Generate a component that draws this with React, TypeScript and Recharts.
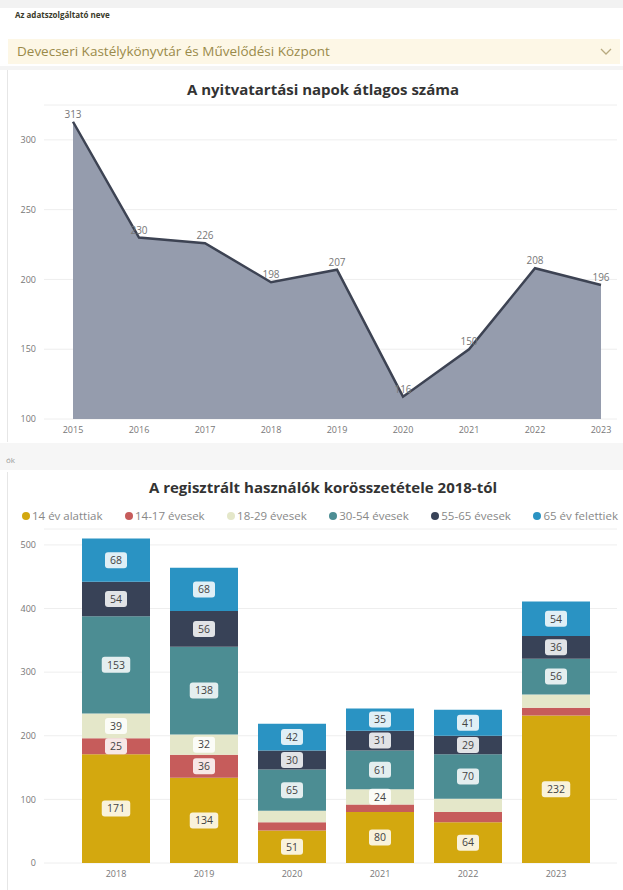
import React from 'react';
import {
  Area,
  AreaChart,
  Bar,
  BarChart,
  CartesianGrid,
  LabelList,
  XAxis,
  YAxis,
} from 'recharts';

// opening days per year
const openYears = ['2015', '2016', '2017', '2018', '2019', '2020', '2021', '2022', '2023'];
const openDays = [313, 230, 226, 198, 207, 116, 150, 208, 196];
const openTicks = [100, 150, 200, 250, 300];

// registered users by age group
const userYears = ['2018', '2019', '2020', '2021', '2022', '2023'];
const under14 = [171, 134, 51, 80, 64, 232];
const age14to17 = [25, 36, 13, 12, 16, 12];
const age18to29 = [39, 32, 18, 24, 21, 21];
const age30to54 = [153, 138, 65, 61, 70, 56];
const age55to65 = [54, 56, 30, 31, 29, 36];
const over65 = [68, 68, 42, 35, 41, 54];
const userTicks = [0, 100, 200, 300, 400, 500];

const groups = [
  { key: 'u14', name: '14 év alattiak', values: under14, color: '#d3a80f' },
  { key: 'a1417', name: '14-17 évesek', values: age14to17, color: '#c65c5b' },
  { key: 'a1829', name: '18-29 évesek', values: age18to29, color: '#e4e7c9' },
  { key: 'a3054', name: '30-54 évesek', values: age30to54, color: '#4c8d93' },
  { key: 'a5565', name: '55-65 évesek', values: age55to65, color: '#384257' },
  { key: 'o65', name: '65 év felettiek', values: over65, color: '#2a93c3' },
];

const openData = openYears.map((y, i) => ({ year: y, days: openDays[i] }));
const userData = userYears.map((y, i) => {
  const row: Record<string, string | number> = { year: y };
  groups.forEach((g) => (row[g.key] = g.values[i]));
  return row;
});

const font = "'Open Sans', 'DejaVu Sans', sans-serif";

// white badge inside the bar segment, skipped when the segment is too thin
const SegmentLabel = (props: any) => {
  const { x, y, width, height, value } = props;
  if (height < 14) return null;
  const text = String(value);
  const w = text.length * 6.5 + 9;
  const cx = x + width / 2;
  const cy = y + height / 2;
  return (
    <g>
      <rect x={cx - w / 2} y={cy - 8} width={w} height={16} rx={3} fill='#fff' fillOpacity={0.85} />
      <text x={cx} y={cy + 3.8} textAnchor='middle' fontSize={10.5} fill='#444' fontFamily={font}>
        {text}
      </text>
    </g>
  );
};

export default function App() {
  return (
    <div
      style={{
        position: 'absolute',
        left: 0,
        top: 0,
        width: 623,
        height: 890,
        background: '#fff',
        fontFamily: font,
        overflow: 'hidden',
      }}
    >
      {/* slicer header */}
      <div style={{ position: 'absolute', left: 0, top: 0, width: 623, height: 8, background: '#f2f2f2' }} />
      <div style={{ position: 'absolute', left: 15, top: 9, fontSize: 8, fontWeight: 700, color: '#3a3a2a' }}>
        Az adatszolgáltató neve
      </div>
      <div
        style={{
          position: 'absolute',
          left: 8,
          top: 39,
          width: 612,
          height: 25,
          background: '#fdf7e6',
        }}
      >
        <span style={{ position: 'absolute', left: 9, top: 3, fontSize: 13.5, color: '#9a8a4a' }}>
          Devecseri Kastélykönyvtár és Művelődési Központ
        </span>
        <svg style={{ position: 'absolute', right: 8, top: 9 }} width={12} height={8}>
          <polyline points='1,1 6,6 11,1' fill='none' stroke='#b8aa80' strokeWidth={1.3} />
        </svg>
      </div>
      <div style={{ position: 'absolute', left: 0, top: 66, width: 623, height: 4, background: '#f4f4f4' }} />

      {/* opening days chart */}
      <div style={{ position: 'absolute', left: 7, top: 70, width: 1, height: 372, background: '#e6e6e6' }} />
      <div
        style={{
          position: 'absolute',
          left: 0,
          top: 79,
          width: 646,
          textAlign: 'center',
          fontSize: 15,
          fontWeight: 700,
          color: '#333',
        }}
      >
        A nyitvatartási napok átlagos száma
      </div>
      <div style={{ position: 'absolute', left: 0, top: 70 }}>
        <AreaChart width={623} height={380} data={openData} margin={{ top: 35, right: 6, bottom: 0, left: 0 }}>
          <CartesianGrid vertical={false} stroke='#eeeeee' />
          <XAxis
            dataKey='year'
            axisLine={false}
            tickLine={false}
            height={31}
            padding={{ left: 29, right: 16 }}
            tick={{ fontSize: 9, fill: '#777', fontFamily: font }}
            interval={0}
          />
          <YAxis
            domain={[100, 325]}
            ticks={openTicks}
            axisLine={false}
            tickLine={false}
            width={44}
            tick={{ fontSize: 9, fill: '#777', fontFamily: font }}
          />
          <Area
            type='linear'
            dataKey='days'
            stroke='#3d4353'
            strokeWidth={2.5}
            fill='#959cad'
            fillOpacity={1}
            dot={false}
            isAnimationActive={false}
          >
            <LabelList dataKey='days' position='top' offset={4} fontSize={10} fill='#777' fontFamily={font} />
          </Area>
        </AreaChart>
      </div>

      {/* separator strip */}
      <div style={{ position: 'absolute', left: 0, top: 443, width: 623, height: 27, background: '#f6f6f6' }} />
      <div style={{ position: 'absolute', left: 6, top: 454, fontSize: 8, color: '#999' }}>ók</div>

      {/* age structure chart */}
      <div style={{ position: 'absolute', left: 7, top: 472, width: 1, height: 418, background: '#e6e6e6' }} />
      <div
        style={{
          position: 'absolute',
          left: 0,
          top: 477,
          width: 646,
          textAlign: 'center',
          fontSize: 15,
          fontWeight: 700,
          color: '#333',
        }}
      >
        A regisztrált használók korösszetétele 2018-tól
      </div>
      <div
        style={{
          position: 'absolute',
          left: 22,
          top: 508,
          width: 596,
          display: 'flex',
          justifyContent: 'space-between',
          whiteSpace: 'nowrap',
          fontSize: 11.5,
          color: '#888',
        }}
      >
        {groups.map((g) => (
          <span key={g.key} style={{ display: 'inline-flex', alignItems: 'center' }}>
            <span
              style={{
                width: 8,
                height: 8,
                borderRadius: 4,
                background: g.color,
                display: 'inline-block',
                marginRight: 2,
              }}
            />
            {g.name}
          </span>
        ))}
      </div>
      <div style={{ position: 'absolute', left: 0, top: 525 }}>
        <BarChart
          width={623}
          height={365}
          data={userData}
          margin={{ top: 4, right: 6, bottom: 0, left: 0 }}
          barSize={68}
        >
          <CartesianGrid vertical={false} stroke='#eeeeee' />
          <XAxis
            dataKey='year'
            axisLine={false}
            tickLine={false}
            height={27}
            padding={{ left: 28, right: 17 }}
            tick={{ fontSize: 9, fill: '#777', fontFamily: font }}
            interval={0}
          />
          <YAxis
            domain={[0, 525]}
            ticks={userTicks}
            axisLine={false}
            tickLine={false}
            width={44}
            tick={{ fontSize: 9, fill: '#777', fontFamily: font }}
          />
          {groups.map((g) => (
            <Bar key={g.key} dataKey={g.key} name={g.name} stackId='a' fill={g.color} isAnimationActive={false}>
              <LabelList dataKey={g.key} content={SegmentLabel} />
            </Bar>
          ))}
        </BarChart>
      </div>
    </div>
  );
}
